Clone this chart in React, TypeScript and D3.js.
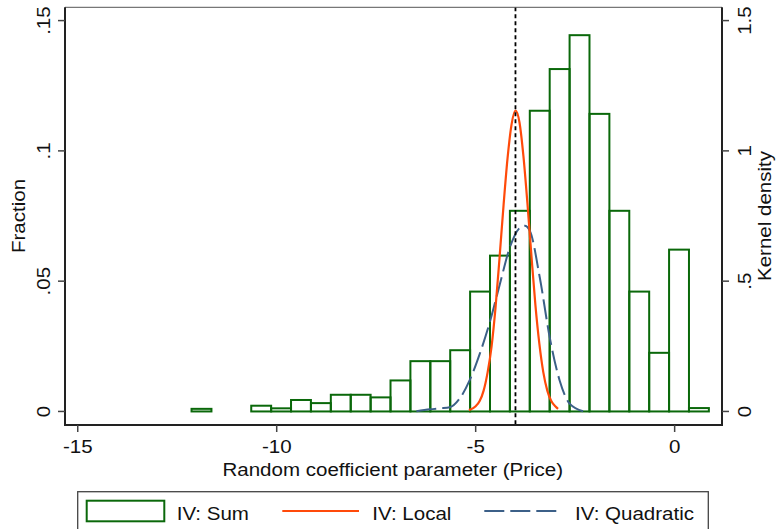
import React from "react";
import * as d3 from "d3";

// histogram: fraction per bin (bin width 0.5, first edge at -12.14)
const binStart = -12.14;
const binWidth = 0.5;
const fractions = [
  0.001, 0, 0, 0.0022, 0.0012, 0.0044, 0.0032, 0.0064, 0.0064, 0.0054,
  0.0119, 0.0193, 0.0193, 0.0235, 0.046, 0.0598, 0.077, 0.1154, 0.1314,
  0.1444, 0.1142, 0.077, 0.046, 0.0225, 0.0621, 0.0013,
];

// kernel density, IV: Local
const localX = [-5.17, -5.0, -4.9, -4.8, -4.7, -4.6, -4.5, -4.4, -4.3, -4.2, -4.1, -4.0, -3.9, -3.8, -3.7, -3.6, -3.5, -3.4, -3.3, -3.2, -3.1, -3.0, -2.93];
const localY = [0.005, 0.02, 0.04, 0.08, 0.15, 0.25, 0.4, 0.59, 0.79, 0.97, 1.1, 1.155, 1.11, 0.98, 0.8, 0.6, 0.41, 0.26, 0.15, 0.08, 0.04, 0.02, 0.01];

// kernel density, IV: Quadratic
const quadX = [-6.49, -6.15, -5.9, -5.65, -5.4, -5.15, -4.9, -4.65, -4.39, -4.14, -3.89, -3.77, -3.64, -3.39, -3.14, -2.89, -2.64, -2.3];
const quadY = [0.001, 0.008, 0.012, 0.016, 0.05, 0.12, 0.22, 0.34, 0.49, 0.63, 0.705, 0.713, 0.694, 0.515, 0.285, 0.119, 0.03, 0.001];

const trueValue = -4;

const xTicks = [-15, -10, -5, 0];
const fracTicks = [0, 0.05, 0.1, 0.15];
const fracLabels = ["0", ".05", ".1", ".15"];
const densTicks = [0, 0.5, 1, 1.5];
const densLabels = ["0", ".5", "1", "1.5"];

const GREEN = "#0a680a";
const ORANGE = "#ff4a0a";
const BLUE = "#3c6088";
const FONT = "'Liberation Sans', Arial, Helvetica, sans-serif";

const Label = ({ x, y, rotate = 0, anchor = "middle", children }: any) => (
  <text
    transform={`translate(${x},${y}) rotate(${rotate}) scale(1.11,1)`}
    textAnchor={anchor}
    fontSize={18.5}
    fontFamily={FONT}
    fill="#111"
  >
    {children}
  </text>
);

export default function App() {
  const left = 65, right = 722, top = 7.3, bottom = 425;
  const x = d3.scaleLinear().domain([-15.32, 1.19]).range([left, right]);
  const y = d3.scaleLinear().domain([-0.0052, 0.1551]).range([bottom, top]);
  const yd = d3.scaleLinear().domain([-0.052, 1.551]).range([bottom, top]);

  const line = d3
    .line<[number, number]>()
    .x((d) => x(d[0]))
    .y((d) => yd(d[1]))
    .curve(d3.curveMonotoneX);

  const localPts = localX.map((v, i) => [v, localY[i]] as [number, number]);
  const quadPts = quadX.map((v, i) => [v, quadY[i]] as [number, number]);

  return (
    <svg
      width={778}
      height={529}
      style={{ position: "absolute", left: 0, top: 0, background: "#fff" }}
    >
      <rect x={0} y={0} width={778} height={529} fill="#fff" />

      {/* bars */}
      {fractions.map((f, i) =>
        f > 0 ? (
          <rect
            key={i}
            x={x(binStart + i * binWidth)}
            y={y(f)}
            width={x(binStart + (i + 1) * binWidth) - x(binStart + i * binWidth)}
            height={y(0) - y(f)}
            fill="none"
            stroke={GREEN}
            strokeWidth={2}
          />
        ) : null
      )}

      <path d={line(quadPts) || ""} fill="none" stroke={BLUE} strokeWidth={2} strokeDasharray="20,6" />
      <path d={line(localPts) || ""} fill="none" stroke={ORANGE} strokeWidth={2.2} />

      <line x1={x(trueValue)} x2={x(trueValue)} y1={top} y2={bottom} stroke="#000" strokeWidth={1.8} strokeDasharray="4,3" />

      {/* frame */}
      <line x1={left} x2={right} y1={top} y2={top} stroke="#555" strokeWidth={1} />
      <line x1={left} x2={left} y1={top} y2={bottom + 1} stroke="#222" strokeWidth={2} />
      <line x1={right} x2={right} y1={top} y2={bottom + 1} stroke="#222" strokeWidth={2} />
      <line x1={left - 1} x2={right + 1} y1={bottom} y2={bottom} stroke="#222" strokeWidth={2} />

      {/* x axis */}
      {xTicks.map((t) => (
        <g key={t}>
          <line x1={x(t)} x2={x(t)} y1={bottom} y2={bottom + 7} stroke="#444" strokeWidth={1.5} />
          <Label x={x(t)} y={452.5}>{t === 0 ? "0" : `-${Math.abs(t)}`}</Label>
        </g>
      ))}
      <Label x={392.8} y={475.5}>Random coefficient parameter (Price)</Label>

      {/* left axis */}
      {fracTicks.map((t, i) => (
        <g key={t}>
          <line x1={left - 7} x2={left} y1={y(t)} y2={y(t)} stroke="#444" strokeWidth={1.5} />
          <Label x={50} y={y(t)} rotate={-90}>{fracLabels[i]}</Label>
        </g>
      ))}
      <Label x={25} y={216} rotate={-90}>Fraction</Label>

      {/* right axis */}
      {densTicks.map((t, i) => (
        <g key={t}>
          <line x1={right} x2={right + 7} y1={yd(t)} y2={yd(t)} stroke="#444" strokeWidth={1.5} />
          <Label x={750.5} y={yd(t)} rotate={-90}>{densLabels[i]}</Label>
        </g>
      ))}
      <Label x={771} y={216} rotate={-90}>Kernel density</Label>

      {/* legend */}
      <rect x={77.7} y={491.7} width={630.6} height={60} fill="#fff" stroke="#444" strokeWidth={1.3} />
      <rect x={86.7} y={500.7} width={77.6} height={20.6} fill="none" stroke={GREEN} strokeWidth={2} />
      <Label x={176.7} y={519.5} anchor="start">IV: Sum</Label>
      <line x1={282.3} x2={359} y1={511} y2={511} stroke={ORANGE} strokeWidth={2} />
      <Label x={372.3} y={519.5} anchor="start">IV: Local</Label>
      <line x1={484.3} x2={556.7} y1={511} y2={511} stroke={BLUE} strokeWidth={2} strokeDasharray="20,6" />
      <Label x={575} y={519.5} anchor="start">IV: Quadratic</Label>
    </svg>
  );
}
